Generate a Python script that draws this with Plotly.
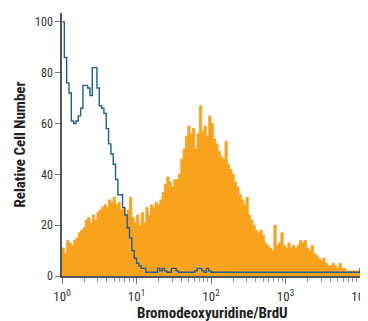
import numpy as np
import plotly.graph_objects as go

# Histogram channels: 32 bins per decade, starting at 10^0
bins_per_decade = 32

brdu_counts = [11, 9, 14, 13, 12, 14, 15, 17, 18, 19,
               22, 23, 21, 24, 22, 25, 26, 27, 28, 27,
               30, 29, 31, 28, 29, 26, 27, 24, 26, 31,
               23, 21, 24, 20, 25, 21, 27, 24, 28, 27,
               29, 28, 30, 33, 36, 39, 37, 35, 38, 38,
               40, 46, 50, 55, 59, 56, 58, 50, 56, 67,
               57, 59, 55, 63, 60, 54, 52, 49, 47, 46,
               53, 44, 42, 40, 37, 35, 32, 30, 28, 31,
               24, 22, 20, 18, 17, 18, 16, 13, 12, 11,
               10, 20, 12, 13, 17, 12, 11, 13, 11, 12,
               11, 12, 14, 13, 14, 11, 10, 12, 9, 8,
               7, 6, 7, 5, 4, 4, 5, 4, 3, 5,
               3, 3, 2, 2, 2, 2, 2, 2, 0]

control_counts = [100, 86, 76, 72, 61, 60, 61, 63, 66, 75,
                  75, 74, 71, 82, 82, 74, 67, 66, 64, 58,
                  52, 48, 44, 38, 32, 32, 27, 24, 19, 15,
                  10, 7, 5, 4, 3, 3, 1.5, 1.5, 1.5, 1.5,
                  1.5, 3, 2, 3, 2, 1.5, 1.5, 3, 3, 2,
                  1.5, 1.5, 1.5, 1.5, 1.5, 1.5, 1.5, 2, 3, 3,
                  2, 1.5, 3, 2, 1.5, 1.5, 1.5, 1.5, 1.5, 1.5,
                  1.5, 1.5, 1.5, 1.5, 1.5, 1.5, 1.5, 1.5, 1.5, 1.5,
                  1.5, 1.5, 1.5, 1.5, 1.5, 1.5, 1.5, 1.5, 1.5, 1.5,
                  1.5, 1.5, 1.5, 1.5, 1.5, 1.5, 1.5, 1.5, 1.5, 1.5,
                  1.5, 1.5, 1.5, 1.5, 1.5, 1.5, 1.5, 1.5, 1.5, 1.5,
                  1.5, 1.5, 1.5, 1.5, 1.5, 1.5, 1.5, 1.5, 1.5, 1.5,
                  1.5, 1.5, 1.5, 1.5, 1.5, 1.5, 1.5, 1.5, 3]

y_ticks = [0, 20, 40, 60, 80, 100]
x_ticks = [1, 10, 100, 1000, 10000]
x_tick_labels = ["10<sup>0</sup>", "10<sup>1</sup>", "10<sup>2</sup>", "10<sup>3</sup>", "10<sup>4</sup>"]
x_title = "Bromodeoxyuridine/BrdU"
y_title = "Relative Cell Number"

n = len(brdu_counts)
edges = 10 ** (np.arange(n + 1) / bins_per_decade)

def step_xy(vals):
    xs = list(edges[:n]) + [edges[n], edges[n]]
    ys = list(vals) + [vals[-1], 0]
    return xs, ys

ox, oy = step_xy(brdu_counts)
bx, by = step_xy(control_counts)

minor_vals = [m * 10 ** d for d in range(4) for m in range(2, 10)]

FONT = "Liberation Sans Narrow, Arial Narrow, Roboto Condensed, sans-serif"

fig = go.Figure()
fig.add_trace(go.Scatter(x=ox, y=oy, mode="lines", line=dict(shape="hv", width=0.8, color="#F9A21C"),
                         fill="tozeroy", fillcolor="#F9A21C", hoverinfo="skip", showlegend=False))
fig.add_trace(go.Scatter(x=bx, y=by, mode="lines", line=dict(shape="hv", width=1.4, color="#1F5E8E"),
                         hoverinfo="skip", showlegend=False))

# The page body keeps the browser's default 8 px margin, so the figure is 8 px smaller
fig.update_layout(
    width=360, height=313,
    margin=dict(l=54, r=5, t=5, b=45, autoexpand=False),
    plot_bgcolor="white", paper_bgcolor="white",
    font=dict(family=FONT, size=12, color="#333333"),
    xaxis=dict(
        type="log", range=[0, 4.04], showgrid=False, zeroline=False, automargin=False,
        showline=True, linecolor="#555555", linewidth=1.5,
        tickvals=x_ticks, ticktext=x_tick_labels, ticks="outside", ticklen=6,
        tickcolor="#777777", tickwidth=1, ticklabeloverflow="allow", ticklabelstandoff=2,
        minor=dict(tickvals=minor_vals, ticks="outside", ticklen=4, tickcolor="#999999", tickwidth=1),
        tickfont=dict(size=13, color="#333333"),
    ),
    yaxis=dict(
        range=[0, 103.5], showgrid=False, zeroline=False, automargin=False,
        showline=True, linecolor="#555555", linewidth=1.5,
        tickvals=y_ticks, ticks="outside", ticklen=5, tickcolor="#777777", tickwidth=1,
        tickfont=dict(size=12, color="#333333"),
    ),
    annotations=[
        dict(text="<b>" + x_title + "</b>", xref="paper", yref="paper", x=0.5, y=0,
             xanchor="center", yanchor="top", yshift=-26, showarrow=False,
             font=dict(size=15, color="#222222")),
        dict(text="<b>" + y_title + "</b>", xref="paper", yref="paper", x=0, y=0.5,
             xanchor="center", yanchor="middle", xshift=-43, textangle=-90, showarrow=False,
             font=dict(size=15, color="#222222")),
    ],
)

fig.write_html("out.html")
